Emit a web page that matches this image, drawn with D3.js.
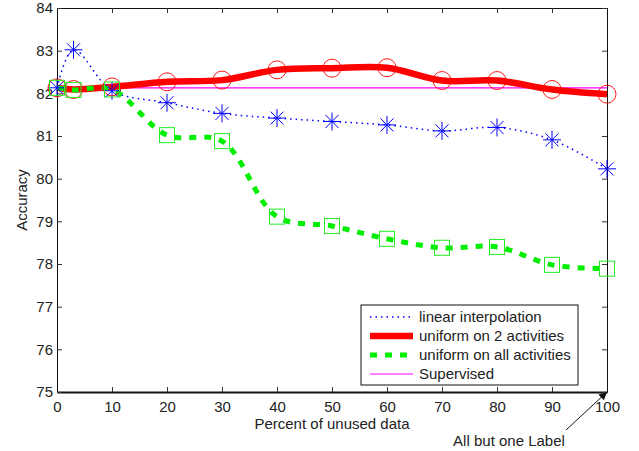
<!DOCTYPE html>
<html>
<head>
<meta charset="utf-8">
<script src="https://cdn.jsdelivr.net/npm/d3@7"></script>
<style>
  body { margin: 0; background: #fff; }
  text { font-family: "Liberation Sans", Arial, sans-serif; fill: #222; }
</style>
</head>
<body>
<div id="chart"></div>
<script>
// Data
const xValues = [0, 3, 10, 20, 30, 40, 50, 60, 70, 80, 90, 100];
const linearInterp = [82.13, 83.02, 82.06, 81.78, 81.53, 81.42, 81.34, 81.26, 81.12, 81.20, 80.91, 80.23];
const uniform2 = [82.13, 82.09, 82.15, 82.27, 82.31, 82.55, 82.59, 82.60, 82.30, 82.30, 82.09, 81.98];
const uniformAll = [82.13, 82.08, 82.09, 81.02, 80.88, 79.11, 78.89, 78.59, 78.38, 78.40, 77.98, 77.89];
const supervised = [82.13, 82.13, 82.13, 82.13, 82.13, 82.13, 82.13, 82.13, 82.13, 82.13, 82.13, 82.13];
const xTicks = [0, 10, 20, 30, 40, 50, 60, 70, 80, 90, 100];
const yTicks = [75, 76, 77, 78, 79, 80, 81, 82, 83, 84];
const legendLabels = ["linear interpolation", "uniform on 2 activities", "uniform on all activities", "Supervised"];

// Chart dimensions
const W = 639, H = 451;
const margin = { top: 8, right: 32, bottom: 59, left: 57 };
const width = W - margin.left - margin.right;
const height = H - margin.top - margin.bottom;
const fontSize = "15px";

const svg = d3.select("#chart").append("svg")
  .attr("width", W)
  .attr("height", H);

const g = svg.append("g")
  .attr("transform", `translate(${margin.left},${margin.top})`);

const x = d3.scaleLinear().domain([0, 100]).range([0, width]);
const y = d3.scaleLinear().domain([75, 84]).range([height, 0]);

// Axes, ticks pointing inward, mirrored on top and right
const tickLen = 5;
g.append("g")
  .attr("transform", `translate(0,${height})`)
  .call(d3.axisBottom(x).tickValues(xTicks).tickSizeInner(-tickLen).tickSizeOuter(0).tickPadding(9))
  .call(a => a.select(".domain").attr("stroke-width", 2));
g.append("g")
  .call(d3.axisTop(x).tickValues(xTicks).tickSizeInner(-tickLen).tickSizeOuter(0).tickFormat(""));
g.append("g")
  .call(d3.axisLeft(y).tickValues(yTicks).tickSizeInner(-tickLen).tickSizeOuter(0).tickPadding(4));
g.append("g")
  .attr("transform", `translate(${width},0)`)
  .call(d3.axisRight(y).tickValues(yTicks).tickSizeInner(-tickLen).tickSizeOuter(0).tickFormat(""));

g.selectAll(".tick text")
  .style("font-size", fontSize)
  .style("font-family", "'Liberation Sans', Arial, sans-serif")
  .attr("fill", "#222");
g.selectAll(".domain").attr("stroke", "#111");
g.selectAll(".tick line").attr("stroke", "#333");

// Axis labels
g.append("text")
  .attr("x", width / 2)
  .attr("y", height + 37)
  .attr("text-anchor", "middle")
  .style("font-size", fontSize)
  .text("Percent of unused data");

g.append("text")
  .attr("transform", `translate(${-30},${height / 2}) rotate(-90)`)
  .attr("text-anchor", "middle")
  .style("font-size", fontSize)
  .text("Accuracy");

// Lines
const lineGen = vals => d3.line()
  .x((d, i) => x(xValues[i]))
  .y(d => y(d))
  .curve(d3.curveCatmullRom.alpha(0.5))(vals);

const series = [
  { vals: linearInterp, color: "#0000ff", width: 1.5, dash: "1.5,4", marker: "star" },
  { vals: uniform2, color: "#ff0000", width: 6.5, dash: null, marker: "circle" },
  { vals: uniformAll, color: "#00ee00", width: 5, dash: "7,8", marker: "square" },
  { vals: supervised, color: "#ff00ff", width: 1.2, dash: null, marker: null }
];

// draw supervised first so thicker lines sit over it where they cross
[3, 0, 1, 2].forEach(k => {
  const s = series[k];
  g.append("path")
    .attr("d", lineGen(s.vals))
    .attr("fill", "none")
    .attr("stroke", s.color)
    .attr("stroke-width", s.width)
    .attr("stroke-dasharray", s.dash);
});

// Markers
const starPath = r => {
  const d = r * 0.72;
  return `M${-r},0L${r},0M0,${-r}L0,${r}M${-d},${-d}L${d},${d}M${-d},${d}L${d},${-d}`;
};

g.selectAll(".star")
  .data(linearInterp)
  .enter().append("path")
  .attr("transform", (d, i) => `translate(${x(xValues[i])},${y(d)})`)
  .attr("d", starPath(9))
  .attr("fill", "none")
  .attr("stroke", "#0000ff")
  .attr("stroke-width", 1);

g.selectAll(".circ")
  .data(uniform2)
  .enter().append("circle")
  .attr("cx", (d, i) => x(xValues[i]))
  .attr("cy", d => y(d))
  .attr("r", 9)
  .attr("fill", "none")
  .attr("stroke", "#ff0000")
  .attr("stroke-width", 0.9);

g.selectAll(".sq")
  .data(uniformAll)
  .enter().append("rect")
  .attr("x", (d, i) => x(xValues[i]) - 7.5)
  .attr("y", d => y(d) - 7.5)
  .attr("width", 15)
  .attr("height", 15)
  .attr("fill", "none")
  .attr("stroke", "#22ee22")
  .attr("stroke-width", 1);

// Legend
const legend = svg.append("g").attr("transform", "translate(361,305)");
legend.append("rect")
  .attr("width", 217)
  .attr("height", 80)
  .attr("fill", "#fff")
  .attr("stroke", "#111")
  .attr("stroke-width", 1);

legendLabels.forEach((lab, i) => {
  const s = series[i];
  const yy = 12 + i * 19;
  legend.append("line")
    .attr("x1", 9).attr("x2", 52)
    .attr("y1", yy).attr("y2", yy)
    .attr("stroke", s.color)
    .attr("stroke-width", s.width)
    .attr("stroke-dasharray", s.dash);
  legend.append("text")
    .attr("x", 58)
    .attr("y", yy + 5)
    .style("font-size", fontSize)
    .text(lab);
});

// Annotation arrow
const defs = svg.append("defs");
defs.append("marker")
  .attr("id", "arrow")
  .attr("viewBox", "0 0 10 10")
  .attr("refX", 10).attr("refY", 5)
  .attr("markerWidth", 10).attr("markerHeight", 8)
  .attr("markerUnits", "userSpaceOnUse")
  .attr("orient", "auto")
  .append("path")
  .attr("d", "M0,0L10,5L0,10z")
  .attr("fill", "#111");

svg.append("line")
  .attr("x1", 566).attr("y1", 430)
  .attr("x2", margin.left + x(100)).attr("y2", margin.top + y(75))
  .attr("stroke", "#111")
  .attr("stroke-width", 1)
  .attr("marker-end", "url(#arrow)");

svg.append("text")
  .attr("x", 509)
  .attr("y", 446)
  .attr("text-anchor", "middle")
  .style("font-size", fontSize)
  .text("All but one Label");
</script>
</body>
</html>
